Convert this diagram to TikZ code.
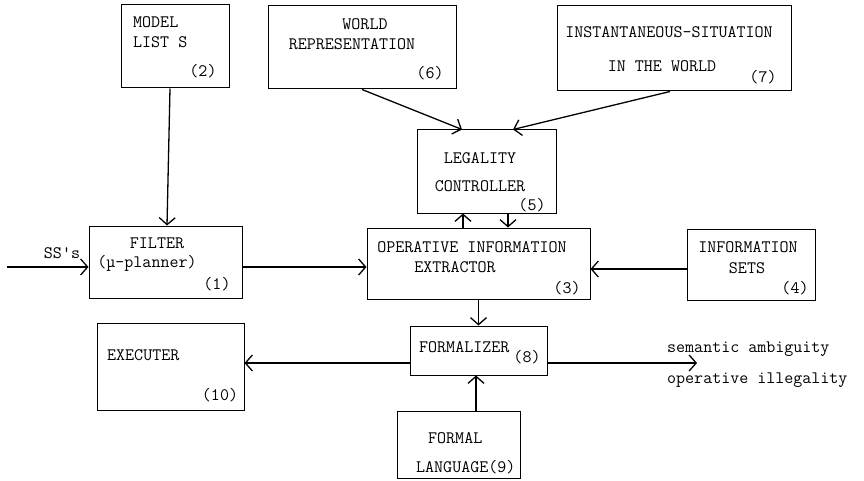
\documentclass[tikz,border=0pt]{standalone}
\usepackage{fontspec}
\usetikzlibrary{arrows.meta,calc}
\tikzset{
	box/.style={draw, line width=1pt, inner sep=0pt}, % The block outlines
	txt/.style={font=\ttfamily\fontsize{17.5}{20}\selectfont, inner sep=0pt, text height=10.6pt, text depth=0pt},
	arr/.style={line width=1.3pt, -{Straight Barb[length=7pt,width=16pt]}} % Open arrow tips
}
\begin{document}
\begin{tikzpicture}[x=1pt,y=-1pt]
	\useasboundingbox (0,0) rectangle (864,481);
	% Blocks
	\node[box, minimum width=108pt, minimum height=83pt] (lists) at (175,46.5) {};
	\node[box, minimum width=188pt, minimum height=83pt] (world) at (362,47.5) {};
	\node[box, minimum width=234pt, minimum height=85pt] (situation) at (674,48.5) {};
	\node[box, minimum width=139pt, minimum height=83pt] (legality) at (486.5,171.5) {};
	\node[box, minimum width=153pt, minimum height=72pt] (filter) at (165.5,262) {};
	\node[box, minimum width=223pt, minimum height=71pt] (extractor) at (478.5,263.5) {};
	\node[box, minimum width=128pt, minimum height=71pt] (infosets) at (751,264.5) {};
	\node[box, minimum width=147pt, minimum height=87pt] (executer) at (170.5,366.5) {};
	\node[box, minimum width=137pt, minimum height=49pt] (formalizer) at (478.5,350.5) {};
	\node[box, minimum width=123pt, minimum height=67pt] (language) at (458.5,444.5) {};
	% Block texts
	\node[txt, anchor=west] (lists1) at (133,22) {MODEL};
	\node[txt, anchor=west] (lists2) at (133,42) {LIST S};
	\node[txt] (lists3) at (203,71) {(2)};
	\node[txt] (world1) at (365,24) {WORLD};
	\node[txt] (world2) at (352,44) {REPRESENTATION};
	\node[txt] (world3) at (430,73) {(6)};
	\node[txt] (situation1) at (669,32) {INSTANTANEOUS-SITUATION};
	\node[txt] (situation2) at (662,66) {IN THE WORLD};
	\node[txt] (situation3) at (763,77) {(7)};
	\node[txt] (legality1) at (480,158) {LEGALITY};
	\node[txt] (legality2) at (480,186) {CONTROLLER};
	\node[txt] (legality3) at (532,205) {(5)};
	\node[txt] (filter1) at (157,243) {FILTER};
	\node[txt] (filter2) at (147,262) {(µ-planner)};
	\node[txt] (filter3) at (217,284) {(1)};
	\node[txt] (extractor1) at (472,247) {OPERATIVE INFORMATION};
	\node[txt] (extractor2) at (455,267) {EXTRACTOR};
	\node[txt] (extractor3) at (567,288) {(3)};
	\node[txt] (infosets1) at (748,247) {INFORMATION};
	\node[txt] (infosets2) at (747,268) {SETS};
	\node[txt] (infosets3) at (795,288) {(4)};
	\node[txt, anchor=west] (executer1) at (107,355) {EXECUTER};
	\node[txt] (executer2) at (220,395) {(10)};
	\node[txt, anchor=west] (formalizer1) at (419,347) {FORMALIZER};
	\node[txt] (formalizer2) at (527,357) {(8)};
	\node[txt, anchor=west] (language1) at (428,438) {FORMAL};
	\node[txt, anchor=west] (language2) at (416,467) {LANGUAGE(9)};
	% Inputs and outputs
	\coordinate (ssin) at (7,267);
	\coordinate (out) at (697,363);
	\node[txt] (sslabel) at (62,253) {SS's};
	\node[txt, anchor=west] (out1) at (667,347) {semantic ambiguity};
	\node[txt, anchor=west] (out2) at (667,378) {operative illegality};
	% Connectors
	\draw[arr] (ssin) -- (ssin -| filter.west);
	\draw[arr] ([xshift=-5pt]lists.south) -- ([xshift=1.5pt]filter.north);
	\draw[arr] ([yshift=-5pt]filter.east) -- ([yshift=-5pt]filter.east -| extractor.west);
	\draw[arr] (world.south) -- ([xshift=-24.5pt]legality.north);
	\draw[arr] ([xshift=-4pt]situation.south) -- ([xshift=26.5pt]legality.north);
	\draw[arr] ([xshift=-15.5pt]extractor.north) -- ([xshift=-15.5pt]extractor.north |- legality.south);
	\draw[arr] ([xshift=21.5pt]legality.south) -- ([xshift=21.5pt]legality.south |- extractor.north);
	\draw[arr] ([yshift=-4.5pt]infosets.west) -- ([yshift=-4.5pt]infosets.west -| extractor.east);
	\draw[arr] (extractor.south) -- (formalizer.north);
	\draw[arr] ([yshift=-12.5pt]formalizer.west) -- ([yshift=-12.5pt]formalizer.west -| executer.east);
	\draw[arr] ([yshift=-12.5pt]formalizer.east) -- (out);
	\draw[arr] ([xshift=17.5pt]language.north) -- ([xshift=17.5pt]language.north |- formalizer.south);
\end{tikzpicture}
\end{document}
